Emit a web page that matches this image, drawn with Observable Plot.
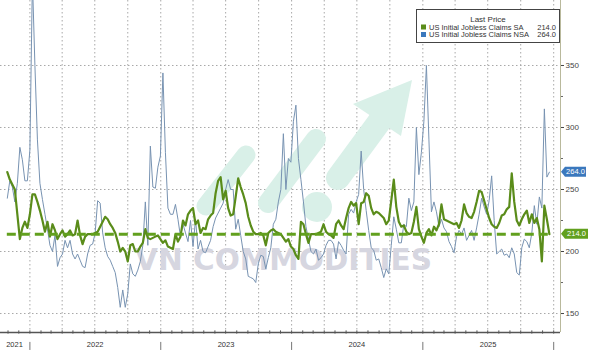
<!DOCTYPE html>
<html><head><meta charset="utf-8">
<script src="https://cdn.jsdelivr.net/npm/d3@7"></script>
<script src="https://cdn.jsdelivr.net/npm/@observablehq/plot@0.6"></script>
<style>
html,body{margin:0;padding:0;background:#fff;}
#chart{position:relative;width:591px;height:352px;overflow:hidden;}
</style></head><body><div id="chart"></div>
<script>
// ---- data (weekly, thousands) ----
const lastDate = "2025-12-20";
const saClaims = [
264,258,254,250,230,210,219,224,219,230,
246,246,240,233,225,216,224,212,222,217,
210,214,217,212,214,217,213,214,225,213,
206,212,214,214,214,215,216,220,224,228,
226,222,219,215,208,200,203,200,192,205,
206,200,200,204,207,218,211,210,211,212,
213,210,207,209,204,203,202,214,208,212,
225,221,230,233,235,222,225,215,219,218,
226,229,231,247,257,260,242,249,235,229,
230,244,259,252,246,239,228,221,216,214,
214,215,213,205,215,217,218,216,215,214,
211,208,210,204,202,197,194,224,222,214,
207,214,214,214,215,216,222,216,214,213,
211,222,225,221,218,227,235,240,237,239,
222,239,240,247,245,235,230,232,231,229,
227,222,225,241,258,236,224,220,221,216,
214,215,224,236,218,212,207,215,218,213,
220,217,222,238,226,225,224,223,222,223,
219,225,238,231,228,227,232,240,249,248,
241,234,227,222,220,219,223,229,230,234,
236,263,240,225,221,226,230,233,223,230,
223,227,218,192,237,226,214
];
const nsaClaims = [
243,257,252,240,255,284,274,257,257,282,
420,350,290,255,242,230,218,205,200,213,
188,195,198,209,203,209,198,194,198,193,
188,187,198,205,206,215,241,239,215,203,
196,193,188,183,171,155,169,155,166,190,
182,180,185,192,205,240,205,285,252,251,
268,277,344,280,235,230,230,238,226,212,
222,215,208,225,204,226,202,209,200,199,
204,209,220,227,231,235,239,250,258,250,
250,218,226,213,200,194,180,179,178,175,
190,197,196,186,195,203,222,226,240,250,
295,250,275,272,305,318,275,258,240,220,
210,200,198,202,193,195,198,205,209,209,
206,194,208,205,201,198,230,234,231,240,
246,281,250,233,217,203,201,193,194,187,
179,186,182,205,228,218,207,207,222,220,
243,233,240,300,262,280,305,350,290,232,
240,232,220,226,219,216,208,204,199,212,
217,214,219,209,213,217,209,219,230,243,
236,230,241,261,225,198,200,202,197,198,
195,203,198,183,181,203,210,208,203,215,
237,222,244,235,315,260,264
];
const yTicks = [150, 200, 250, 300, 350];
const yMinorTicks = [175, 225, 275, 325];
const yearLabels = ["2021", "2022", "2023", "2024", "2025"];
const yearLabelDates = ["2021-11-19", "2022-07-02", "2023-07-02", "2024-07-01", "2025-07-02"];
const yearBoundaries = ["2022-01-01", "2023-01-01", "2024-01-01", "2025-01-01", "2026-01-01"];
const xDomain = ["2021-10-11", "2026-01-20"];
const yDomain = [134.7, 402.4];
const lastSA = 214.0;
const lastNSA = 264.0;
const seriesNames = ["US Initial Jobless Claims SA", "US Initial Jobless Claims NSA"];
const legendTitle = "Last Price";
const watermark = "VN COMMODITIES";

// ---- build table ----
const endD = new Date(lastDate);
const n = saClaims.length;
const dates = saClaims.map((_, i) => d3.utcWeek.offset(endD, i - (n - 1)));
const rows = dates.map((d, i) => ({date: d, sa: saClaims[i], nsa: nsaClaims[i]}));
const xStart = new Date(xDomain[0]), xEnd = new Date(xDomain[1]);
const quarters = d3.utcMonth.every(3).range(xStart, xEnd);
const months = d3.utcMonth.range(xStart, xEnd);
const yb = yearBoundaries.map(d => new Date(d));

const GREEN = "#5a8c1a", GREEN2 = "#62a01e", BLUE = "#7893b2", TAGBLUE = "#3b78bd";

const chart = Plot.plot({
  width: 591, height: 352,
  marginLeft: 0, marginRight: 31, marginTop: 0, marginBottom: 20,
  style: {fontFamily: "Liberation Sans, Arial, sans-serif", fontSize: "8px", background: "#fff", color: "#333"},
  x: {type: "utc", domain: [xStart, xEnd], axis: null},
  y: {domain: yDomain},
  marks: [
    Plot.gridY(yTicks, {stroke: "#a8a8a8", strokeOpacity: 1, strokeDasharray: "1.5,2.5"}),
    Plot.gridX(quarters, {stroke: "#a8a8a8", strokeOpacity: 1, strokeDasharray: "1.5,2.5"}),
    Plot.line(rows, {x: "date", y: "nsa", stroke: BLUE, strokeWidth: 1, clip: true}),
    Plot.line(rows, {x: "date", y: "sa", stroke: GREEN, strokeWidth: 2.2, clip: true}),
    Plot.ruleY([lastSA], {x1: () => dates[0], x2: () => dates[n - 1], stroke: GREEN2, strokeWidth: 3, strokeDasharray: "9,5"}),
    Plot.ruleY([yDomain[0]], {stroke: "#555", strokeWidth: 1.5}),
    Plot.ruleX(months, {y1: yDomain[0] - 1.3, y2: yDomain[0] + 1.3, stroke: "#555"}),
    Plot.ruleX([xEnd], {stroke: "#b9b99c"}),
    Plot.axisY(yTicks, {anchor: "right", tickSize: 3, tickPadding: 2, fontSize: 8, color: "#444"}),
    Plot.axisY(yMinorTicks, {anchor: "right", tickSize: 2, tickFormat: () => "", color: "#666"}),
    Plot.ruleX(yb, {y1: yDomain[0] - 8, y2: yDomain[0] - 14.5, stroke: "#777"}),
    Plot.text(yearLabels, {x: (d, i) => new Date(yearLabelDates[i]), text: d => d, frameAnchor: "bottom", dy: 14, fontSize: 7.5, fill: "#333"})
  ]
});
document.getElementById("chart").appendChild(chart);

// ---- decorations ----
const svgEl = chart;
const NS = "http://www.w3.org/2000/svg";
const sx = chart.scale("x"), sy = chart.scale("y");
function el(tag, attrs, parent) {
  const e = document.createElementNS(NS, tag);
  for (const k in attrs) e.setAttribute(k, attrs[k]);
  parent.appendChild(e);
  return e;
}
// watermark behind lines
const firstLine = svgEl.querySelector('g[aria-label="line"]');
const wm = document.createElementNS(NS, "g");
svgEl.insertBefore(wm, firstLine);
const mint = "#d9f0e8";
el("line", {x1: 206, y1: 206, x2: 246, y2: 155, stroke: mint, "stroke-width": 19, "stroke-linecap": "round"}, wm);
el("line", {x1: 268, y1: 203, x2: 316, y2: 139, stroke: mint, "stroke-width": 20, "stroke-linecap": "round"}, wm);
el("circle", {cx: 317, cy: 207, r: 15, fill: mint}, wm);
el("line", {x1: 338, y1: 178, x2: 385, y2: 114, stroke: mint, "stroke-width": 24, "stroke-linecap": "round"}, wm);
el("polygon", {points: "353,104 412,80 401,136", fill: mint}, wm);
const wt = el("text", {x: 135, y: 270, "text-anchor": "start", "font-family": "DejaVu Sans, sans-serif", "font-weight": "bold", "font-size": 30, fill: "#d6d6e0", textLength: 297, lengthAdjust: "spacingAndGlyphs"}, wm);
wt.textContent = watermark;

// last price tags
const tagLayer = svgEl.appendChild(document.createElementNS(NS, "g"));
const xr = sx.apply(xEnd);
function tagBox(v, color, w) {
  const yy = sy.apply(v);
  const a = xr + 1;
  el("polygon", {points: `${a},${yy} ${a + 4},${yy - 5} ${a + w},${yy - 5} ${a + w},${yy + 5} ${a + 4},${yy + 5}`, fill: color}, tagLayer);
  const t = el("text", {x: a + 4 + (w - 4) / 2, y: yy, dy: "0.35em", "text-anchor": "middle", "font-size": 7.5, fill: "#fff", "font-family": "Liberation Sans, Arial, sans-serif"}, tagLayer);
  t.textContent = v.toFixed(1);
}
tagBox(lastNSA, TAGBLUE, 25);
tagBox(lastSA, GREEN2, 27);

// legend box
const lg = svgEl.appendChild(document.createElementNS(NS, "g"));
lg.setAttribute("font-family", "Liberation Sans, Arial, sans-serif");
el("rect", {x: 416.5, y: 9.5, width: 143, height: 33, fill: "#fff", stroke: "#444", "stroke-width": 1}, lg);
const lt = el("text", {x: 488, y: 19, dy: "0.35em", "text-anchor": "middle", "font-size": 8, fill: "#333"}, lg);
lt.textContent = legendTitle;
const legendItems = [[seriesNames[0], GREEN, lastSA], [seriesNames[1], TAGBLUE, lastNSA]];
legendItems.forEach(([name, c, v], i) => {
  const yy = 27 + i * 7.5;
  el("rect", {x: 421, y: yy - 2.5, width: 5, height: 5, fill: c}, lg);
  const t1 = el("text", {x: 429, y: yy, dy: "0.35em", "text-anchor": "start", "font-size": 7.5, fill: "#333"}, lg);
  t1.textContent = name;
  const t2 = el("text", {x: 556, y: yy, dy: "0.35em", "text-anchor": "end", "font-size": 7.5, fill: "#333"}, lg);
  t2.textContent = v.toFixed(1);
});
</script>
</body></html>
